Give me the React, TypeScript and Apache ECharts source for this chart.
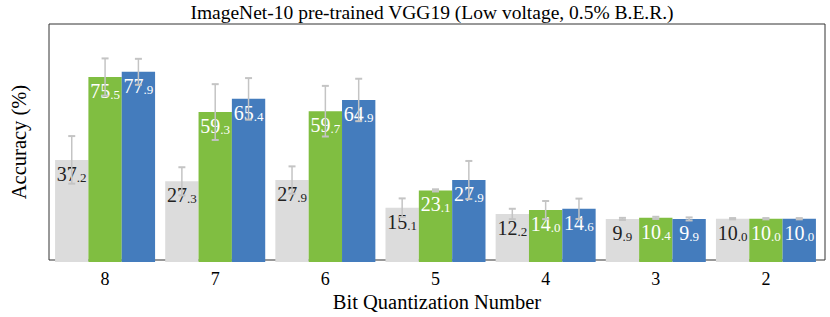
import { useEffect, useRef } from 'react';
import * as echarts from 'echarts';

const categories = ['8', '7', '6', '5', '4', '3', '2'];
const seriesNames = ['Gray', 'Green', 'Blue'];
const grayValues = [37.2, 27.3, 27.9, 15.1, 12.2, 9.9, 10.0];
const greenValues = [75.5, 59.3, 59.7, 23.1, 14.0, 10.4, 10.0];
const blueValues = [77.9, 65.4, 64.9, 27.9, 14.6, 9.9, 10.0];
const grayErrors = [11.0, 6.5, 6.3, 4.3, 2.4, 0.5, 0.3];
const greenErrors = [8.6, 12.9, 11.7, 0.5, 4.2, 0.5, 0.3];
const blueErrors = [6.0, 9.6, 9.8, 8.8, 4.7, 0.7, 0.3];

const FONT = '"Liberation Serif", "DejaVu Serif", serif';
const colors = ['#dcdcdc', '#80be41', '#447cbd'];
const labelColors = ['#222222', '#ffffff', '#ffffff'];
const ERR_COLOR = '#c4c4c4';
const CAT_GAP = 0.092;

export default function App() {
  const ref = useRef<HTMLDivElement>(null);
  useEffect(() => {
    if (!ref.current) return;
    const chart = echarts.init(ref.current, undefined, { renderer: 'svg' });
    const values = [grayValues, greenValues, blueValues];
    const errors = [grayErrors, greenErrors, blueErrors];
    const errData: number[][] = [];
    values.forEach((vals, si) => {
      vals.forEach((v, ci) => {
        errData.push([ci, v - errors[si][ci], v + errors[si][ci], si]);
      });
    });
    const fmt = (p: any) => {
      const s = Number(p.value).toFixed(1);
      const [i, d] = s.split('.');
      return `{a|${i}}{b|.${d}}`;
    };
    const barSeries = values.map((vals, si) => ({
      type: 'bar',
      name: seriesNames[si],
      xAxisIndex: 0,
      yAxisIndex: 0,
      data: vals,
      barGap: '0%',
      barCategoryGap: `${CAT_GAP * 100}%`,
      itemStyle: { color: colors[si] },
      z: 2,
      label: {
        show: true,
        position: 'insideTop',
        distance: 2,
        formatter: fmt,
        fontFamily: FONT,
        rich: {
          a: { fontFamily: FONT, fontSize: 20, color: labelColors[si], verticalAlign: 'bottom', lineHeight: 22 },
          b: { fontFamily: FONT, fontSize: 13, color: labelColors[si], verticalAlign: 'bottom', lineHeight: 22 },
        },
      },
    }));
    const option: any = {
      animation: false,
      backgroundColor: '#ffffff',
      textStyle: { fontFamily: FONT },
      title: {
        text: 'ImageNet-10 pre-trained VGG19 (Low voltage, 0.5% B.E.R.)',
        left: 427,
        top: -3,
        textAlign: 'center',
        textStyle: { fontFamily: FONT, fontSize: 19.5, fontWeight: 'normal', color: '#000' },
      },
      grid: [
        { left: 50, top: 24, width: 771, height: 238, show: false },
        { left: 38, top: 24, width: 787, height: 238, show: true, borderColor: '#333', borderWidth: 1, backgroundColor: 'transparent' },
      ],
      xAxis: [
        {
          type: 'category',
          gridIndex: 0,
          data: categories,
          axisLine: { show: false },
          axisTick: { show: true, alignWithLabel: true, length: 4, lineStyle: { color: '#333' } },
          axisLabel: { fontFamily: FONT, fontSize: 18, color: '#000', margin: 8 },
          splitLine: { show: false },
        },
        {
          type: 'value',
          gridIndex: 1,
          min: 0,
          max: 1,
          axisLine: { show: false },
          axisTick: { show: false },
          axisLabel: { show: false },
          splitLine: { show: false },
          name: 'Bit Quantization Number',
          nameLocation: 'middle',
          nameGap: 31,
          nameTextStyle: { fontFamily: FONT, fontSize: 20.5, color: '#000' },
        },
      ],
      yAxis: [
        {
          type: 'value',
          gridIndex: 0,
          min: -10,
          max: 100,
          startValue: -10,
          axisLine: { show: false },
          axisTick: { show: false },
          axisLabel: { show: false },
          splitLine: { show: false },
        },
        {
          type: 'value',
          gridIndex: 1,
          min: 0,
          max: 1,
          axisLine: { show: false },
          axisTick: { show: false },
          axisLabel: { show: false },
          splitLine: { show: false },
          name: 'Accuracy (%)',
          nameLocation: 'middle',
          nameGap: 20,
          nameTextStyle: { fontFamily: FONT, fontSize: 20.5, color: '#000' },
        },
      ],
      series: [
        ...barSeries,
        {
          type: 'custom',
          xAxisIndex: 0,
          yAxisIndex: 0,
          z: 5,
          encode: { x: 0, y: [1, 2] },
          data: errData,
          renderItem: (params: any, api: any) => {
            const ci = api.value(0);
            const lo = api.value(1);
            const hi = api.value(2);
            const si = api.value(3);
            const band = api.size([1, 0])[0];
            const barW = (band * (1 - CAT_GAP)) / 3;
            const pLo = api.coord([ci, lo]);
            const pHi = api.coord([ci, hi]);
            const xc = pLo[0] + (si - 1) * barW;
            const cap = 3.5;
            return {
              type: 'group',
              children: [
                { type: 'line', shape: { x1: xc, y1: pLo[1], x2: xc, y2: pHi[1] }, style: { stroke: ERR_COLOR, lineWidth: 1.5 } },
                { type: 'line', shape: { x1: xc - cap, y1: pHi[1], x2: xc + cap, y2: pHi[1] }, style: { stroke: ERR_COLOR, lineWidth: 2 } },
                { type: 'line', shape: { x1: xc - cap, y1: pLo[1], x2: xc + cap, y2: pLo[1] }, style: { stroke: ERR_COLOR, lineWidth: 2 } },
              ],
            };
          },
        },
      ],
    };
    chart.setOption(option);
    return () => chart.dispose();
  }, []);
  return <div ref={ref} style={{ position: 'fixed', left: 0, top: 0, width: 830, height: 317 }} />;
}
